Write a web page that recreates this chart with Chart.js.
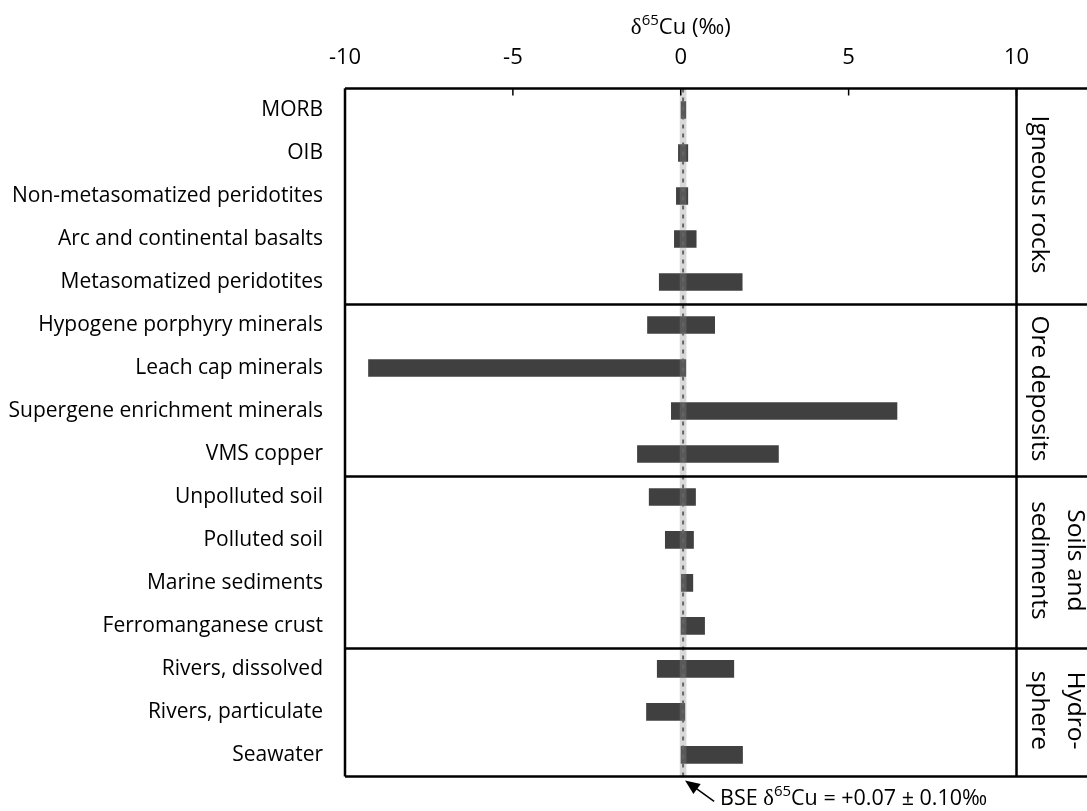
<!DOCTYPE html>
<html>
<head>
<meta charset="utf-8">
<script src="https://cdn.jsdelivr.net/npm/chart.js@4.4.1/dist/chart.umd.min.js"></script>
<style>
  html, body { margin: 0; padding: 0; background: #fff; }
</style>
</head>
<body>
<canvas id="cuChart" width="1087" height="811"></canvas>
<script>
const categories = [
  `MORB`,
  `OIB`,
  `Non-metasomatized peridotites`,
  `Arc and continental basalts`,
  `Metasomatized peridotites`,
  `Hypogene porphyry minerals`,
  `Leach cap minerals`,
  `Supergene enrichment minerals`,
  `VMS copper`,
  `Unpolluted soil`,
  `Polluted soil`,
  `Marine sediments`,
  `Ferromanganese crust`,
  `Rivers, dissolved`,
  `Rivers, particulate`,
  `Seawater`,
]
const lowValues = [0.0, -0.08, -0.14, -0.2, -0.65, -1.0, -9.31, -0.29, -1.3, -0.95, -0.47, 0.01, 0.0, -0.71, -1.03, 0.0]
const highValues = [0.16, 0.22, 0.22, 0.47, 1.84, 1.02, 0.16, 6.45, 2.92, 0.45, 0.39, 0.37, 0.72, 1.59, 0.13, 1.85]

const groupLabels = [[`Igneous rocks`], [`Ore deposits`], [`Soils and`, `sediments`], [`Hydro-`, `sphere`]]
const groupSizes = [5, 4, 4, 3]

const xTicks = [-10, -5, 0, 5, 10]
const bseValue = 0.07
const bseError = 0.1

const FONT = `"Open Sans", Lato, sans-serif`
const SYMBOL_FONT = `"Liberation Serif", "DejaVu Serif", serif`

// draws text with a raised "65" after the delta
function deltaText(ctx, parts, x, y, size, align) {
  const pieces = [
    [parts[0], `${size}px ${FONT}`, 0],
    [`δ`, `${size + 1}px ${SYMBOL_FONT}`, 0],
    [`65`, `${Math.round(size * 0.68)}px ${FONT}`, -size * 0.42],
    [parts[1], `${size}px ${FONT}`, 0],
  ]
  let total = 0
  for (const p of pieces) {
    ctx.font = p[1]
    total += ctx.measureText(p[0]).width
  }
  let cx = align === `center` ? x - total / 2 : x
  ctx.textAlign = `left`
  ctx.textBaseline = `alphabetic`
  for (const p of pieces) {
    ctx.font = p[1]
    ctx.fillText(p[0], cx, y + p[2])
    cx += ctx.measureText(p[0]).width
  }
}

const overlay = {
  id: `overlay`,
  afterDatasetsDraw(chart) {
    const { ctx, chartArea: a, scales } = chart
    const x = scales.x
    const y = scales.y
    const W = chart.width
    ctx.save()

    // BSE band and dashed line
    const b0 = x.getPixelForValue(bseValue - bseError)
    const b1 = x.getPixelForValue(bseValue + bseError)
    ctx.fillStyle = `rgba(141,141,141,0.33)`
    ctx.fillRect(b0, a.top, b1 - b0, a.bottom - a.top)
    const xb = x.getPixelForValue(bseValue)
    ctx.strokeStyle = `#666`
    ctx.lineWidth = 2
    ctx.setLineDash([4, 5])
    ctx.beginPath()
    ctx.moveTo(xb, a.top)
    ctx.lineTo(xb, a.bottom)
    ctx.stroke()
    ctx.setLineDash([])

    // inside tick marks
    ctx.strokeStyle = `#000`
    ctx.lineWidth = 1.5
    xTicks.forEach((v) => {
      const px = x.getPixelForValue(v)
      ctx.beginPath()
      ctx.moveTo(px, a.top)
      ctx.lineTo(px, a.top + 7)
      ctx.stroke()
    })

    // frame, group column and separators
    ctx.lineWidth = 2.5
    ctx.beginPath()
    ctx.moveTo(a.left, a.top)
    ctx.lineTo(W, a.top)
    ctx.moveTo(a.left, a.bottom)
    ctx.lineTo(W, a.bottom)
    ctx.moveTo(a.left, a.top)
    ctx.lineTo(a.left, a.bottom)
    ctx.moveTo(a.right, a.top)
    ctx.lineTo(a.right, a.bottom)
    let row = 0
    const bounds = [a.top]
    groupSizes.forEach((n) => {
      row += n
      if (row < categories.length) {
        const yy = (y.getPixelForValue(row - 1) + y.getPixelForValue(row)) / 2 + 1
        ctx.moveTo(a.left, yy)
        ctx.lineTo(W, yy)
        bounds.push(yy)
      }
    })
    bounds.push(a.bottom)
    ctx.stroke()

    // group labels, rotated to read downwards
    ctx.fillStyle = `#000`
    ctx.font = `24.5px ${FONT}`
    ctx.textAlign = `center`
    ctx.textBaseline = `middle`
    groupLabels.forEach((lines, gi) => {
      const yc = (bounds[gi] + bounds[gi + 1]) / 2 - 2
      lines.forEach((txt, k) => {
        const xc = a.right + 22 + (lines.length - 1 - k) * 36
        ctx.save()
        ctx.translate(xc, yc)
        ctx.rotate(Math.PI / 2)
        ctx.fillText(txt, 0, 0)
        ctx.restore()
      })
    })

    // axis title
    deltaText(ctx, [``, `Cu (‰)`], (a.left + a.right) / 2, 34, 22, `center`)

    // BSE annotation with arrow
    const tipX = xb + 2
    const tipY = a.bottom + 4
    const tailX = tipX + 29
    const tailY = tipY + 21
    const ang = Math.atan2(tipY - tailY, tipX - tailX)
    ctx.strokeStyle = `#000`
    ctx.lineWidth = 1.5
    ctx.beginPath()
    ctx.moveTo(tailX, tailY)
    ctx.lineTo(tipX - Math.cos(ang) * 8, tipY - Math.sin(ang) * 8)
    ctx.stroke()
    ctx.beginPath()
    ctx.moveTo(tipX, tipY)
    ctx.lineTo(tipX - 16 * Math.cos(ang - 0.4), tipY - 16 * Math.sin(ang - 0.4))
    ctx.lineTo(tipX - 16 * Math.cos(ang + 0.4), tipY - 16 * Math.sin(ang + 0.4))
    ctx.closePath()
    ctx.fill()
    deltaText(ctx, [`BSE `, `Cu = +0.07 ± 0.10‰`], tailX + 6, 805, 21.5, `left`)

    ctx.restore()
  },
}

new Chart(document.querySelector(`#cuChart`), {
  type: `bar`,
  data: {
    labels: categories,
    datasets: [
      {
        label: `δ65Cu range`,
        data: lowValues.map((lo, i) => [lo, highValues[i]]),
        backgroundColor: `#404040`,
        borderWidth: 0,
        barPercentage: 0.41,
        categoryPercentage: 1,
      },
    ],
  },
  options: {
    indexAxis: `y`,
    responsive: false,
    animation: false,
    devicePixelRatio: 1,
    layout: { padding: { left: 0, right: 70.5, top: 0, bottom: 34.5 } },
    scales: {
      x: {
        position: `top`,
        min: -10,
        max: 10,
        afterFit: (s) => { s.height = 88.5 },
        afterBuildTicks: (s) => { s.ticks = xTicks.map((v) => ({ value: v })) },
        grid: { display: false, drawTicks: false },
        border: { display: false },
        ticks: {
          color: `#000`,
          padding: 18,
          font: { family: FONT, size: 22 },
        },
      },
      y: {
        afterFit: (s) => { s.width = 345 },
        grid: { display: false, drawTicks: false },
        border: { display: false },
        ticks: {
          color: `#000`,
          padding: 22,
          font: { family: FONT, size: 21 },
        },
      },
    },
    plugins: {
      legend: { display: false },
      tooltip: { enabled: false },
      title: { display: false },
    },
  },
  plugins: [overlay],
})
</script>
</body>
</html>
